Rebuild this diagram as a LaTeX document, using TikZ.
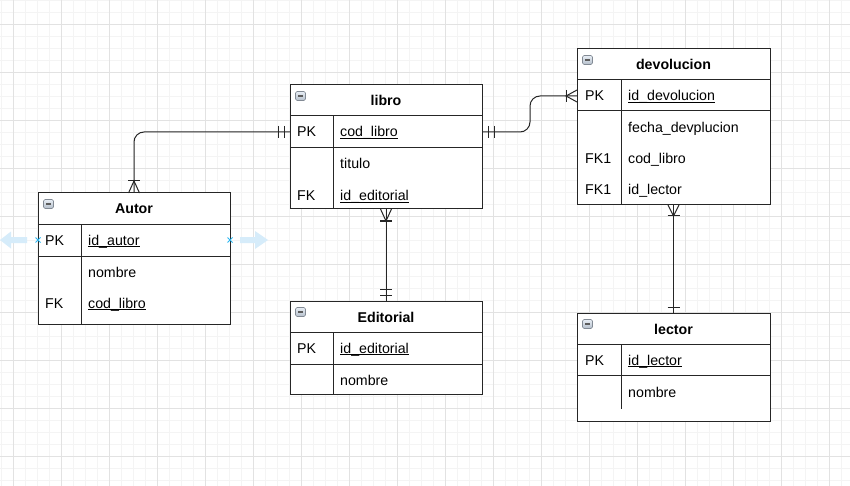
\documentclass[tikz,border=0pt]{standalone}
\usepackage{fontspec}
\setmainfont{Liberation Sans}
\usetikzlibrary{calc}

\definecolor{gridminor}{RGB}{244,244,244}
\definecolor{gridmajor}{RGB}{226,226,226}
\definecolor{ink}{RGB}{38,38,38}
\definecolor{hoverblue}{RGB}{214,236,250}
\definecolor{pointblue}{RGB}{41,182,242}
\definecolor{icontop}{RGB}{232,238,245}
\definecolor{iconbot}{RGB}{180,190,202}
\definecolor{iconedge}{RGB}{130,138,148}

% underline that sits just below the baseline
\newcommand\keyline[1]{\setbox0\hbox{#1}\rlap{\rule[-2pt]{\wd0}{0.75pt}}\box0}

\begin{document}
\begin{tikzpicture}[x=1pt,y=-1pt,
  tablebox/.style={draw=ink, line width=1pt, fill=white, inner sep=0pt, outer sep=0pt, anchor=north west},
  rowline/.style={draw=ink, line width=1pt},
  rel/.style={draw=ink, line width=1pt},
  cell/.style={anchor=west, inner sep=0pt, text height=10pt, text depth=0pt, font=\fontsize{14.2}{17}\selectfont},
  title/.style={anchor=center, inner sep=0pt, text height=10pt, text depth=0pt, font=\fontsize{14.2}{17}\selectfont\bfseries},
  tblicon/.pic={
    \draw[iconedge, line width=0.6pt, top color=icontop, bottom color=iconbot, rounded corners=1.5pt] (0,0) rectangle (10,9);
    \draw[ink!75, line width=1.3pt] (2.5,4.5) -- (7.5,4.5);
  }]

\useasboundingbox (0,0) rectangle (850,486);
\clip (0,0) rectangle (850,486);
\fill[white] (0,0) rectangle (850,486);

% background grid
\foreach \i in {0,...,71} \draw[gridminor, line width=1pt] ({1.33+12*\i},0) -- ++(0,486);
\foreach \j in {0,...,40} \draw[gridminor, line width=1pt] (0,{0.33+12*\j}) -- ++(850,0);
\foreach \i in {0,...,17} \draw[gridmajor, line width=1pt] ({13.33+48*\i},0) -- ++(0,486);
\foreach \j in {0,...,9} \draw[gridmajor, line width=1pt] (0,{24.33+48*\j}) -- ++(850,0);

% ---------- Autor ----------
\node[tablebox, minimum width=192pt, minimum height=131pt] (autor) at (38,193) {};
\draw[rowline] (38,224) -- (230,224);
\draw[rowline] (38,256) -- (230,256);
\draw[rowline] (81,224) -- (81,324);
\pic at ($(autor.north west)+(5.5,6.5)$) {tblicon};
\node[title] (autor-t) at (134,209) {Autor};
\node[cell] (autor-k1) at (45,240) {PK};
\node[cell] (autor-a1) at (88,240) {\keyline{id\_autor}};
\node[cell] (autor-a2) at (88,272) {nombre};
\node[cell] (autor-k3) at (45,303) {FK};
\node[cell] (autor-a3) at (88,303) {\keyline{cod\_libro}};

% ---------- libro ----------
\node[tablebox, minimum width=192pt, minimum height=124pt] (libro) at (290,85) {};
\draw[rowline] (290,116) -- (482,116);
\draw[rowline] (290,148) -- (482,148);
\draw[rowline] (333,116) -- (333,209);
\pic at ($(libro.north west)+(5.5,6.5)$) {tblicon};
\node[title] (libro-t) at (386,101) {libro};
\node[cell] (libro-k1) at (297,132) {PK};
\node[cell] (libro-a1) at (340,132) {\keyline{cod\_libro}};
\node[cell] (libro-a2) at (340,164) {titulo};
\node[cell] (libro-k3) at (297,196) {FK};
\node[cell] (libro-a3) at (340,196) {\keyline{id\_editorial}};

% ---------- devolucion ----------
\node[tablebox, minimum width=193pt, minimum height=156pt] (devo) at (577,49) {};
\draw[rowline] (577,80) -- (770,80);
\draw[rowline] (577,111) -- (770,111);
\draw[rowline] (621,80) -- (621,205);
\pic at ($(devo.north west)+(5.5,6.5)$) {tblicon};
\node[title] (devo-t) at (673.5,65) {devolucion};
\node[cell] (devo-k1) at (585,96) {PK};
\node[cell] (devo-a1) at (628,96) {\keyline{id\_devolucion}};
\node[cell] (devo-a2) at (628,128) {fecha\_devplucion};
\node[cell] (devo-k3) at (585,159) {FK1};
\node[cell] (devo-a3) at (628,159) {cod\_libro};
\node[cell] (devo-k4) at (585,190) {FK1};
\node[cell] (devo-a4) at (628,190) {id\_lector};

% ---------- Editorial ----------
\node[tablebox, minimum width=192pt, minimum height=93pt] (edit) at (290,301) {};
\draw[rowline] (290,332) -- (482,332);
\draw[rowline] (290,364) -- (482,364);
\draw[rowline] (333,332) -- (333,394);
\pic at ($(edit.north west)+(5.5,6.5)$) {tblicon};
\node[title] (edit-t) at (386,317) {Editorial};
\node[cell] (edit-k1) at (297,348) {PK};
\node[cell] (edit-a1) at (340,348) {\keyline{id\_editorial}};
\node[cell] (edit-a2) at (340,380) {nombre};

% ---------- lector ----------
\node[tablebox, minimum width=193pt, minimum height=108pt] (lector) at (577,313) {};
\draw[rowline] (577,344) -- (770,344);
\draw[rowline] (577,375) -- (770,375);
\draw[rowline] (621,344) -- (621,409);
\pic at ($(lector.north west)+(5.5,6.5)$) {tblicon};
\node[title] (lector-t) at (673.5,329) {lector};
\node[cell] (lector-k1) at (585,360) {PK};
\node[cell] (lector-a1) at (628,360) {\keyline{id\_lector}};
\node[cell] (lector-a2) at (628,392) {nombre};

% ---------- relationships ----------
\coordinate (lw) at (libro.west |- libro-k1);
\coordinate (le) at (libro.east |- libro-k1);
\coordinate (dw) at (devo.west |- devo-k1);
\coordinate (turn) at (530,96);

% Autor >|---|| libro
\draw[rel, rounded corners=10pt] (autor.north) |- (lw);
\draw[rel] ($(autor.north)+(-5.5,0)$) -- ($(autor.north)+(0,-12)$) -- ($(autor.north)+(5.5,0)$);
\draw[rel] ($(autor.north)+(-6,-12)$) -- ($(autor.north)+(6,-12)$);
\draw[rel] ($(lw)+(-6,-6)$) -- ($(lw)+(-6,6)$);
\draw[rel] ($(lw)+(-12,-6)$) -- ($(lw)+(-12,6)$);

% libro ||---|< devolucion
\draw[rel, rounded corners=10pt] (le) -| (turn) -- (dw);
\draw[rel] ($(le)+(6,-6)$) -- ($(le)+(6,6)$);
\draw[rel] ($(le)+(12,-6)$) -- ($(le)+(12,6)$);
\draw[rel] ($(dw)+(0,-6)$) -- ($(dw)+(-11,0)$) -- ($(dw)+(0,6)$);
\draw[rel] ($(dw)+(-11,-6)$) -- ($(dw)+(-11,6)$);

% libro >|---|| Editorial
\draw[rel] (libro.south) -- (edit.north);
\draw[rel] ($(libro.south)+(-5.5,0)$) -- ($(libro.south)+(0,12)$) -- ($(libro.south)+(5.5,0)$);
\draw[rel] ($(libro.south)+(-6,12)$) -- ($(libro.south)+(6,12)$);
\draw[rel] ($(edit.north)+(-6,-6)$) -- ($(edit.north)+(6,-6)$);
\draw[rel] ($(edit.north)+(-6,-12)$) -- ($(edit.north)+(6,-12)$);

% devolucion >|---| lector
\draw[rel] (devo.south) -- (lector.north);
\draw[rel] ($(devo.south)+(-5.5,0)$) -- ($(devo.south)+(0,11)$) -- ($(devo.south)+(5.5,0)$);
\draw[rel] ($(devo.south)+(-6,11)$) -- ($(devo.south)+(6,11)$);
\draw[rel] ($(lector.north)+(-6,-6)$) -- ($(lector.north)+(6,-6)$);

% ---------- hover handles on the Autor key row ----------
\coordinate (hl) at (autor.west |- autor-k1);
\coordinate (hr) at (autor.east |- autor-k1);
\fill[hoverblue] ($(hl)+(-11,-3)$) -- ($(hl)+(-27,-3)$) -- ($(hl)+(-27,-8.5)$) -- ($(hl)+(-38,0)$)
  -- ($(hl)+(-27,8.5)$) -- ($(hl)+(-27,3)$) -- ($(hl)+(-11,3)$) -- cycle;
\fill[hoverblue] ($(hr)+(10,-3)$) -- ($(hr)+(25,-3)$) -- ($(hr)+(25,-9)$) -- ($(hr)+(38,0)$)
  -- ($(hr)+(25,9)$) -- ($(hr)+(25,3)$) -- ($(hr)+(10,3)$) -- cycle;
\draw[pointblue, line width=1pt] ($(hl)+(-2.5,-2.5)$) -- ($(hl)+(2.5,2.5)$) ($(hl)+(-2.5,2.5)$) -- ($(hl)+(2.5,-2.5)$);
\draw[pointblue, line width=1pt] ($(hr)+(-2.5,-2.5)$) -- ($(hr)+(2.5,2.5)$) ($(hr)+(-2.5,2.5)$) -- ($(hr)+(2.5,-2.5)$);

\end{tikzpicture}
\end{document}
